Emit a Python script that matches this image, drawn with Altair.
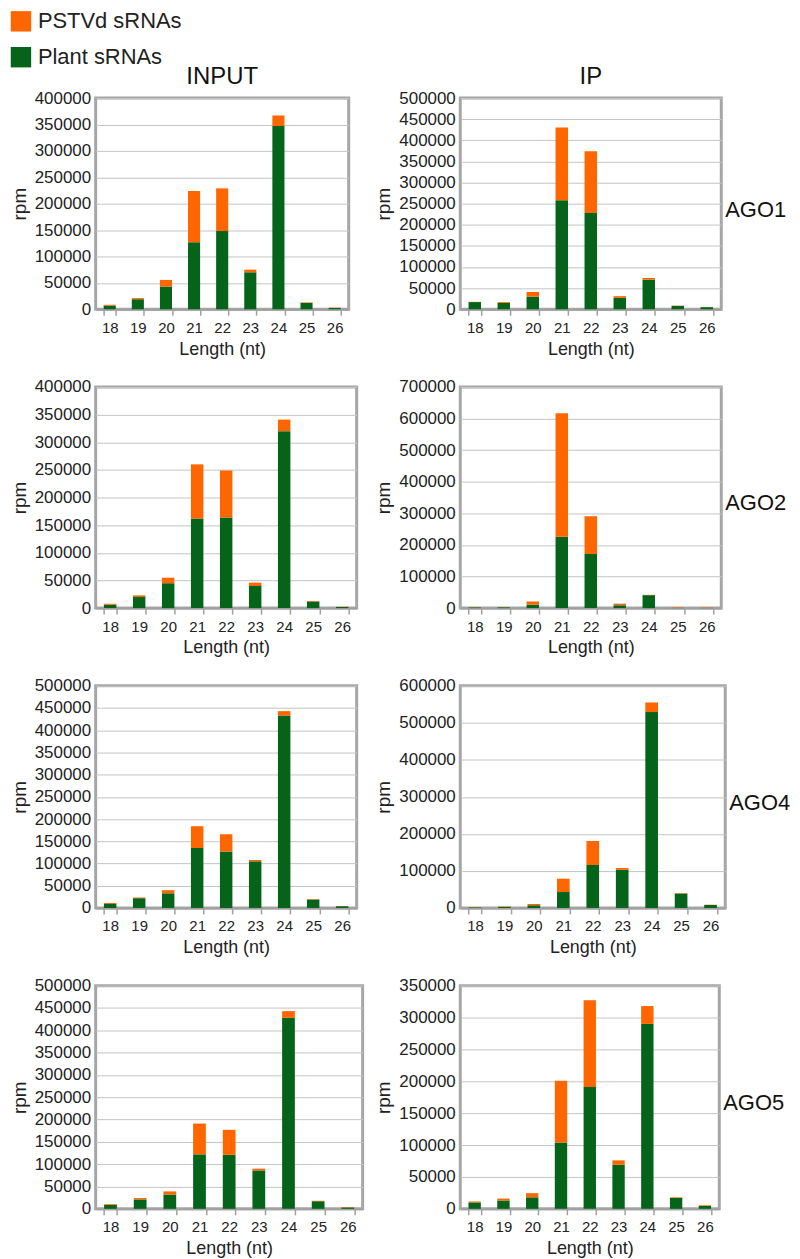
import altair as alt
import pandas as pd

lengths = [18, 19, 20, 21, 22, 23, 24, 25, 26]
series_names = ["PSTVd sRNAs", "Plant sRNAs"]
ago_labels = ["AGO1", "AGO2", "AGO4", "AGO5"]
column_titles = ["INPUT", "IP"]

# green (plant) part and orange (PSTVd) part of each stacked bar, rpm
input_ago1_plant = [7000, 19000, 43000, 127000, 148000, 70000, 347000, 12000, 2500]
input_ago1_pstvd = [1500, 2000, 12500, 97000, 81000, 5000, 20000, 1000, 500]
ip_ago1_plant = [17000, 15000, 30000, 258000, 228000, 27000, 70000, 8000, 5000]
ip_ago1_pstvd = [500, 2000, 11000, 172000, 146000, 4000, 4000, 500, 500]

input_ago2_plant = [6000, 20000, 45000, 162000, 164000, 40000, 320000, 12000, 2000]
input_ago2_pstvd = [2000, 3000, 10000, 98000, 85000, 6000, 21000, 1000, 500]
ip_ago2_plant = [2000, 2500, 11000, 226000, 171000, 9000, 41000, 500, 500]
ip_ago2_pstvd = [500, 500, 10000, 391000, 120000, 5000, 1000, 1500, 1000]

input_ago4_plant = [9000, 22000, 33000, 135000, 127000, 105000, 433000, 19000, 4000]
input_ago4_pstvd = [2000, 1500, 7000, 49000, 39000, 3000, 10000, 1000, 500]
ip_ago4_plant = [1500, 3000, 7000, 43000, 116000, 103000, 529000, 39000, 8000]
ip_ago4_pstvd = [500, 1000, 4000, 36000, 65000, 5000, 26000, 1000, 500]

input_ago5_plant = [9000, 21000, 32000, 122000, 121000, 86000, 428000, 17000, 3000]
input_ago5_pstvd = [1500, 3000, 7000, 69000, 56000, 4000, 15000, 1000, 1000]
ip_ago5_plant = [10000, 13000, 18000, 104000, 191000, 69000, 290000, 17000, 4500]
ip_ago5_pstvd = [1500, 3000, 6500, 97000, 136000, 7000, 28000, 1000, 1000]

# axis maxima and tick steps per panel
input_axis = [(400000, 50000), (400000, 50000), (500000, 50000), (500000, 50000)]
ip_axis = [(500000, 50000), (700000, 100000), (600000, 100000), (350000, 50000)]

input_series = [(input_ago1_plant, input_ago1_pstvd), (input_ago2_plant, input_ago2_pstvd),
                (input_ago4_plant, input_ago4_pstvd), (input_ago5_plant, input_ago5_pstvd)]
ip_series = [(ip_ago1_plant, ip_ago1_pstvd), (ip_ago2_plant, ip_ago2_pstvd),
             (ip_ago4_plant, ip_ago4_pstvd), (ip_ago5_plant, ip_ago5_pstvd)]

input_widths = [254, 262, 262, 268]
ip_widths = [262, 262, 266, 260]
row_heights = [212, 222, 223, 224]

ORANGE = "#FF6600"
GREEN = "#05641A"
TEXT = "#222222"
FONT = "Liberation Sans"


def panel(plant, pstvd, ymax, step, w, h, label=None, col_title=None):
    df = pd.DataFrame({
        "Length": lengths * 2,
        "type": ["Plant sRNAs"] * len(lengths) + ["PSTVd sRNAs"] * len(lengths),
        "stack_order": [0] * len(lengths) + [1] * len(lengths),
        "rpm": list(plant) + list(pstvd),
    })
    bars = alt.Chart(df).mark_bar().encode(
        x=alt.X("Length:O", title="Length (nt)",
                scale=alt.Scale(paddingInner=0.57, paddingOuter=0.285),
                axis=alt.Axis(labelAngle=0, tickBand="extent", grid=False,
                              tickColor="#A0A0A0", tickSize=6, tickWidth=1.5,
                              domainColor="#A0A0A0", domainWidth=2,
                              labelFontSize=15, labelPadding=5, labelColor=TEXT,
                              titleFontSize=18, titleFontWeight="normal",
                              titlePadding=5, titleColor=TEXT)),
        y=alt.Y("rpm:Q", stack="zero", title="rpm",
                scale=alt.Scale(domain=[0, ymax], nice=False),
                axis=alt.Axis(values=list(range(0, ymax + 1, step)), format="d",
                              ticks=False, domain=False, grid=True,
                              gridColor="#C4C4C4", gridWidth=1,
                              labelFontSize=17, labelPadding=5, labelColor=TEXT,
                              titleFontSize=19, titleFontWeight="normal",
                              titlePadding=5, titleColor=TEXT)),
        color=alt.Color("type:N", title=None,
                        scale=alt.Scale(domain=series_names, range=[ORANGE, GREEN]),
                        legend=alt.Legend(orient="none", legendX=-86, legendY=-88,
                                          direction="vertical", padding=0,
                                          symbolType="square", symbolSize=420,
                                          symbolStrokeWidth=0, labelFontSize=22,
                                          labelColor=TEXT, labelOffset=6,
                                          rowPadding=14)),
        order=alt.Order("stack_order:Q", sort="ascending"),
    )
    layers = [bars]
    if label:
        ldf = pd.DataFrame({"label": [label]})
        layers.append(alt.Chart(ldf).mark_text(
            align="left", baseline="middle", fontSize=22, color="#111111"
        ).encode(text="label:N", x=alt.value(w + 4), y=alt.value(h / 2 + 6)))
    if col_title:
        tdf = pd.DataFrame({"label": [col_title]})
        layers.append(alt.Chart(tdf).mark_text(
            align="center", baseline="alphabetic", fontSize=24, color="#111111"
        ).encode(text="label:N", x=alt.value(w / 2), y=alt.value(-14)))
    return alt.layer(*layers).properties(width=w, height=h)


input_panels = [panel(p, o, m, s, w, h, col_title=(column_titles[0] if i == 0 else None))
                for i, ((p, o), (m, s), w, h) in enumerate(zip(input_series, input_axis, input_widths, row_heights))]
ip_panels = [panel(p, o, m, s, w, h, label=lab, col_title=(column_titles[1] if i == 0 else None))
             for i, ((p, o), (m, s), w, h, lab) in enumerate(zip(ip_series, ip_axis, ip_widths, row_heights, ago_labels))]

input_col = alt.vconcat(*input_panels, spacing=16)
ip_col = alt.vconcat(*ip_panels, spacing=16)

chart = alt.hconcat(input_col, ip_col, spacing=8).properties(
    padding=0
).configure(font=FONT).configure_view(stroke="#A6A6A6", strokeWidth=3)

chart.save("out.html", embed_options={"renderer": "svg", "actions": False})
